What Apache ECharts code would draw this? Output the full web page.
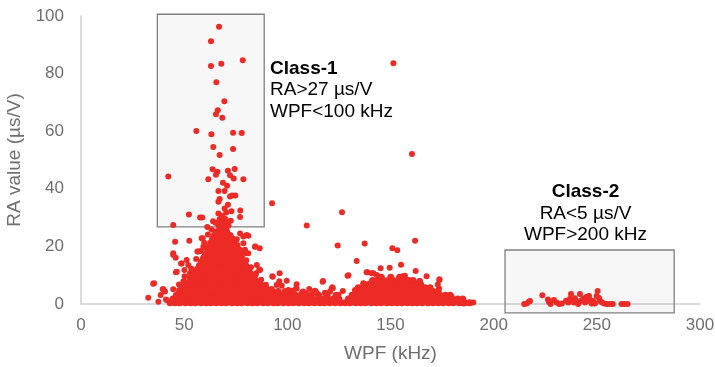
<!DOCTYPE html>
<html>
<head>
<meta charset="utf-8">
<script src="https://cdn.jsdelivr.net/npm/echarts@6/dist/echarts.min.js"></script>
<style>html,body{margin:0;padding:0;background:#fff}#c{width:715px;height:367px}</style>
</head>
<body>
<div id="c"></div>
<script>
// ---- Axis settings ----
const xTicks = [0, 50, 100, 150, 200, 250, 300];
const yTicks = [0, 20, 40, 60, 80, 100];

// ---- Dense body of the low-WPF cluster: [RA value, list of WPF values] ----
const mainRows = [
  [0.4, [43.2,45.6,47.9,50.7,53.1,55.4,58.2,60.6,62.9,65.5,68.1,70.4,73.2,75.6,77.9,80.7,83.1,85.4,88.2,90.6,93.3,95.4,98.1,100.7,102.9,105.6,108.2,110.5,113.1,115.7,117.9,120.6,123.2,125.8]],
  [1.7, [44.6,47.2,49.5,52.1,54.7,57.0,59.6,62.2,64.5,67.1,69.7,72.0,74.6,77.2,79.5,82.1,84.7,87.0,89.6,92.2,94.5,97.1,99.7,102.0,104.6,107.2,109.5,112.1,114.7,117.0,119.6,122.3,125.0]],
  [3.0, [46.2,48.7,51.3,53.8,56.2,58.7,61.3,63.8,66.2,68.7,71.3,73.8,76.2,78.7,81.3,83.8,86.2,88.7,91.3,93.8,96.2,98.8,101.4,103.9,106.5,109.1,111.6,115.2,119.3,123.6]],
  [4.3, [47.9,50.4,52.9,55.5,57.9,60.4,62.9,65.5,67.9,70.4,72.9,75.5,77.9,80.4,82.9,85.5,87.9,90.4,92.9,95.6,98.9,102.4]],
  [5.6, [49.8,52.3,54.9,57.3,59.8,62.3,64.9,67.3,69.8,72.3,74.9,77.3,79.8,82.3,84.9,87.4,89.6]],
  [6.9, [51.4,53.9,56.4,58.9,61.4,63.9,66.4,68.9,71.4,73.9,76.4,78.9,81.4,83.9,86.2]],
  [8.2, [52.9,55.4,57.9,60.4,62.9,65.4,67.9,70.4,72.9,75.4,77.9,80.4,82.9,84.6]],
  [9.5, [54.3,56.8,59.3,61.8,64.3,66.8,69.3,71.8,74.3,76.8,79.3,81.8,83.2]],
  [10.8, [55.4,57.9,60.4,62.9,65.4,67.9,70.4,72.9,75.4,77.9,80.4,81.9]],
  [12.1, [56.4,58.9,61.4,63.9,66.4,68.9,71.4,73.9,76.4,78.9,80.6]],
  [13.4, [57.4,59.9,62.4,64.9,67.4,69.9,72.4,74.9,77.4,79.3]],
  [14.7, [58.4,60.9,63.4,65.9,68.4,70.9,73.4,75.9,78.3]],
  [16.0, [59.4,61.9,64.4,66.9,69.4,71.9,74.4,76.9,77.9]],
  [17.3, [60.4,62.9,65.4,67.9,70.4,72.9,75.4,77.0]],
  [18.6, [61.4,63.9,66.4,68.9,71.4,73.9,75.9]],
  [19.9, [62.1,64.6,67.1,69.6,72.1,74.6,75.4]],
  [21.2, [62.8,65.3,67.8,70.3,72.8,74.8]],
  [22.5, [63.7,66.2,68.7,71.2,73.7]],
  [23.8, [64.6,67.1,69.6,72.3]],
  [25.1, [65.6,68.1,70.6]],
  [26.4, [67.3,70.2]]
];

// ---- Dense body of the mid-WPF cluster ----
const midRows = [
  [0.4, [128.1,130.4,133.2,135.6,137.9,140.7,143.1,145.4,148.2,150.6,153.1,155.5,158.2,160.6,162.9,165.4,168.2,170.6,173.1,175.5,178.2,180.4,183.3,186.1,188.4]],
  [1.7, [129.6,132.2,134.7,137.1,139.6,142.3,144.8,147.2,149.7,152.3,154.8,157.1,159.6,162.2,164.7,167.3,169.8,172.2,174.7,177.3,179.8,182.6,185.0]],
  [3.0, [131.4,133.9,136.4,138.9,141.3,143.8,146.4,148.9,151.3,153.8,156.4,158.9,161.3,163.8,166.4,168.9,171.3,173.9,176.6,178.9]],
  [4.3, [133.2,135.7,138.2,140.6,143.2,145.7,148.2,150.6,153.2,155.7,158.2,160.6,163.1,165.7,168.2,170.6,173.1]],
  [5.6, [134.4,136.9,139.4,141.9,144.4,146.9,149.4,151.9,154.4,156.9,159.4,161.9,164.4,166.8,169.2]],
  [6.9, [137.2,139.7,142.2,144.7,147.2,149.7,152.2,154.7,157.2,159.7,162.3,164.6]],
  [8.2, [141.3,143.8,146.3,148.8,151.3,153.8,156.3,158.8,160.9]],
  [9.3, [145.6,150.1,154.4]]
];

// ---- Scattered points [WPF, RA] ----
const class1Outliers = [
  [66.9,96.3],[63.0,91.2],[63.0,82.6],[68.0,83.4],[78.4,84.6],[65.6,77.0],[69.5,70.4],[66.3,67.3],
  [65.4,65.9],[68.5,64.7],[55.9,60.1],[63.2,58.9],[73.7,59.5],[77.9,59.4],[64.1,54.5],[73.7,53.8],
  [67.2,51.7],[42.3,44.3],[63.8,46.8],[66.1,45.9],[65.4,44.9],[71.2,46.3],[74.5,46.9],[72.2,44.7],
  [74.0,43.6],[61.7,43.3],[78.7,43.3],[68.8,42.1],[70.8,41.1],[66.6,39.2],[69.6,39.2],[73.2,37.7],
  [74.8,37.7],[72.2,37.3],[67.2,36.5],[66.6,35.5],[69.6,33.2],[71.2,34.5],[72.9,32.2],[77.2,32.5],
  [52.3,31.1],[57.7,30.0],[58.8,30.0],[66.6,31.4],[68.2,30.6],[70.4,31.8],[77.1,30.2],[64.0,28.7],
  [44.7,27.4],[61.2,26.7],[66.5,27.5],[68.0,28.3],[69.5,27.8],[70.8,28.6],[67.2,29.4],[68.8,30.1],
  [71.5,27.3],[65.2,28.2],[72.6,28.9],[69.9,29.5]
];
const otherOutliers = [
  [151.4,83.6],[160.4,52.1],[92.6,35.0],[126.5,31.9],[109.4,27.3],[124.4,20.3],[137.5,21.0],
  [150.9,19.4],[153.3,18.7],[161.9,22.0],[133.6,14.9],[145.2,12.4],[149.6,12.6],[155.1,13.6],
  [162.2,11.5],[129.6,10.0],[167.5,9.6],[173.7,8.6],[172.9,6.8],[117.3,8.0],[121.8,5.8],
  [92.7,9.6],[96.3,10.7],[84.5,20.0],[86.6,19.4],[81.1,23.7],[78.7,23.4],[35.0,7.0],[32.6,2.2],
  [190.1,0.5],[185.3,0.2]
];
const lowScatter = [
  [35.4,7.2],[39.9,5.1],[38.6,3.1],[44.7,5.1],[41.2,1.6],[45.6,21.6],[52.5,22.0],[44.7,17.6],
  [45.9,16.1],[48.5,14.1],[46.0,11.0],[51.2,15.3],[52.0,13.5],[49.9,8.0],[52.8,10.7],[49.3,4.3],
  [56.4,18.2],[59.0,22.8],[60.1,19.9],[80.3,24.0],[84.3,19.9],[81.1,17.6],[85.2,13.5],[83.5,8.7],
  [78.7,21.1],[75.5,22.5],[77.1,18.8],[129.2,9.8],[86.4,12.0],[84.8,10.7],[92.9,9.5],[99.7,8.1],
  [87.6,6.6],[97.3,6.3],[104.5,6.9],[104.5,5.4],[100.5,4.9],[117.1,7.7],[122.0,5.5],[120.7,4.3],
  [109.0,3.7],[114.2,3.9],[138.4,11.0],[164.3,8.0],[138.9,11.0],[140.9,10.7],[143.3,10.1],
  [144.9,9.5],[156.2,9.7],[158.6,8.3],[132.8,4.9],[136.8,7.2],[179.6,2.5],[184.5,0.8],
  [47.5,6.8],[50.2,9.6],[53.4,12.3],[55.8,15.6],[58.1,18.4],[59.7,21.3],[61.5,24.1],[63.2,25.9],
  [75.9,20.3],[77.8,17.9],[80.1,15.2],[82.4,12.8],[84.6,10.1],[87.3,8.4],[89.6,6.7],[92.4,5.2],
  [95.6,4.4],[96.1,7.9],[102.3,4.6],[107.1,4.1],[110.6,5.2],[113.5,4.6],[118.2,3.9],[124.8,3.2],
  [126.9,4.5],[44.7,17.0],[48.8,14.1],[50.1,11.8],[46.4,11.2],[49.6,7.7],[52.8,9.5],[47.6,4.9],
  [40.7,4.3],[39.6,5.1],[37.5,0.8],[41.5,1.4],[58.5,22.8],[59.3,19.9],[56.9,18.2],[77.1,24.5],
  [79.5,18.8],[80.0,17.6],[80.0,13.5],[86.8,11.8],[82.7,8.9],[94.8,6.6],[104.2,5.4],[121.5,5.4],
  [107.7,4.3],[112.6,4.3],[141.7,10.7],[157.0,9.8],[164.0,8.0],[173.5,5.4],[173.7,8.3]
];
const class2Points = [
  [214.8,0.0],[216.0,0.2],[217.1,0.8],[217.6,1.0],[223.6,3.0],[226.3,1.6],[226.8,0.7],[227.6,0.0],
  [229.2,1.4],[230.5,0.5],[231.7,0.0],[233.0,0.2],[235.1,1.1],[236.2,0.5],[237.0,1.8],[237.5,3.5],
  [238.3,1.4],[238.9,0.5],[239.4,2.0],[240.2,0.8],[241.0,0.0],[241.8,3.5],[242.3,1.1],[243.4,2.0],
  [244.3,0.5],[245.1,2.5],[245.6,1.0],[246.2,2.8],[246.7,1.6],[247.5,0.2],[248.3,1.0],[249.1,0.2],
  [249.9,2.8],[250.4,4.5],[251.1,2.1],[251.5,1.0],[252.4,0.6],[253.5,0.2],[254.8,0.0],[256.4,0.0],
  [257.7,0.0],[262.0,0.0],[263.3,0.0],[264.9,0.0]
];

// ---- Class boxes: [WPF from, RA from, WPF to, RA to] ----
const classBoxes = [
  [37.0, 26.8, 88.8, 100.6],
  [205.5, -3.1, 287.5, 18.75]
];

function rowsToPoints(rows) {
  const out = [];
  rows.forEach(r => r[1].forEach(x => out.push([x, r[0]])));
  return out;
}
const densePoints = [].concat(rowsToPoints(mainRows), rowsToPoints(midRows));
const sparsePoints = [].concat(lowScatter, class1Outliers, otherOutliers, class2Points);

const FONT = 'Liberation Sans, Arial, sans-serif';
const RED = '#ec2a26';
const chart = echarts.init(document.getElementById('c'));
chart.setOption({
  animation: false,
  backgroundColor: '#ffffff',
  grid: { left: 81, right: 15, top: 16, bottom: 63, containLabel: false, outerBoundsMode: 'none' },
  xAxis: {
    type: 'value', min: xTicks[0], max: xTicks[xTicks.length - 1], interval: 50,
    name: 'WPF (kHz)', nameLocation: 'middle', nameGap: 40,
    nameTextStyle: { color: '#6f6f6f', fontSize: 19, fontFamily: FONT },
    axisLine: { show: true, lineStyle: { color: '#cfcfcf', width: 1.5 } },
    axisTick: { show: false },
    splitLine: { show: false },
    axisLabel: { color: '#6f6f6f', fontSize: 17, fontFamily: FONT, margin: 13 }
  },
  yAxis: {
    type: 'value', min: yTicks[0], max: yTicks[yTicks.length - 1], interval: 20,
    name: 'RA value (µs/V)', nameLocation: 'middle', nameGap: 54,
    nameTextStyle: { color: '#6f6f6f', fontSize: 19, fontFamily: FONT },
    axisLine: { show: true, lineStyle: { color: '#cfcfcf', width: 1.5 } },
    axisTick: { show: false },
    splitLine: { show: false },
    axisLabel: { color: '#6f6f6f', fontSize: 17, fontFamily: FONT, margin: 17 }
  },
  series: [
    {
      type: 'custom',
      z: 1,
      clip: false,
      silent: true,
      data: classBoxes,
      encode: { x: [0, 2], y: [1, 3] },
      renderItem: function (params, api) {
        const p1 = api.coord([api.value(0), api.value(3)]);
        const p2 = api.coord([api.value(2), api.value(1)]);
        return {
          type: 'rect',
          shape: { x: p1[0], y: p1[1], width: p2[0] - p1[0], height: p2[1] - p1[1] },
          style: { fill: 'rgba(0,0,0,0.03)', stroke: '#808080', lineWidth: 1.3 }
        };
      }
    },
    {
      type: 'scatter',
      z: 3,
      symbolSize: 7,
      itemStyle: { color: RED, opacity: 1 },
      data: densePoints
    },
    {
      type: 'scatter',
      z: 3,
      symbolSize: 6,
      itemStyle: { color: RED, opacity: 1 },
      data: sparsePoints
    }
  ],
  graphic: [
    { type: 'text', left: 270, top: 59, style: { text: 'Class-1', fill: '#000', font: 'bold 19px ' + FONT } },
    { type: 'text', left: 270, top: 80.5, style: { text: 'RA>27 µs/V', fill: '#000', font: '19px ' + FONT } },
    { type: 'text', left: 270, top: 102, style: { text: 'WPF<100 kHz', fill: '#000', font: '19px ' + FONT } },
    { type: 'text', x: 585.5, y: 191.7, style: { text: 'Class-2', fill: '#000', font: 'bold 19px ' + FONT, textAlign: 'center', textVerticalAlign: 'middle' } },
    { type: 'text', x: 585.5, y: 213.3, style: { text: 'RA<5 µs/V', fill: '#000', font: '19px ' + FONT, textAlign: 'center', textVerticalAlign: 'middle' } },
    { type: 'text', x: 585.5, y: 235, style: { text: 'WPF>200 kHz', fill: '#000', font: '19px ' + FONT, textAlign: 'center', textVerticalAlign: 'middle' } }
  ]
});
</script>
</body>
</html>
